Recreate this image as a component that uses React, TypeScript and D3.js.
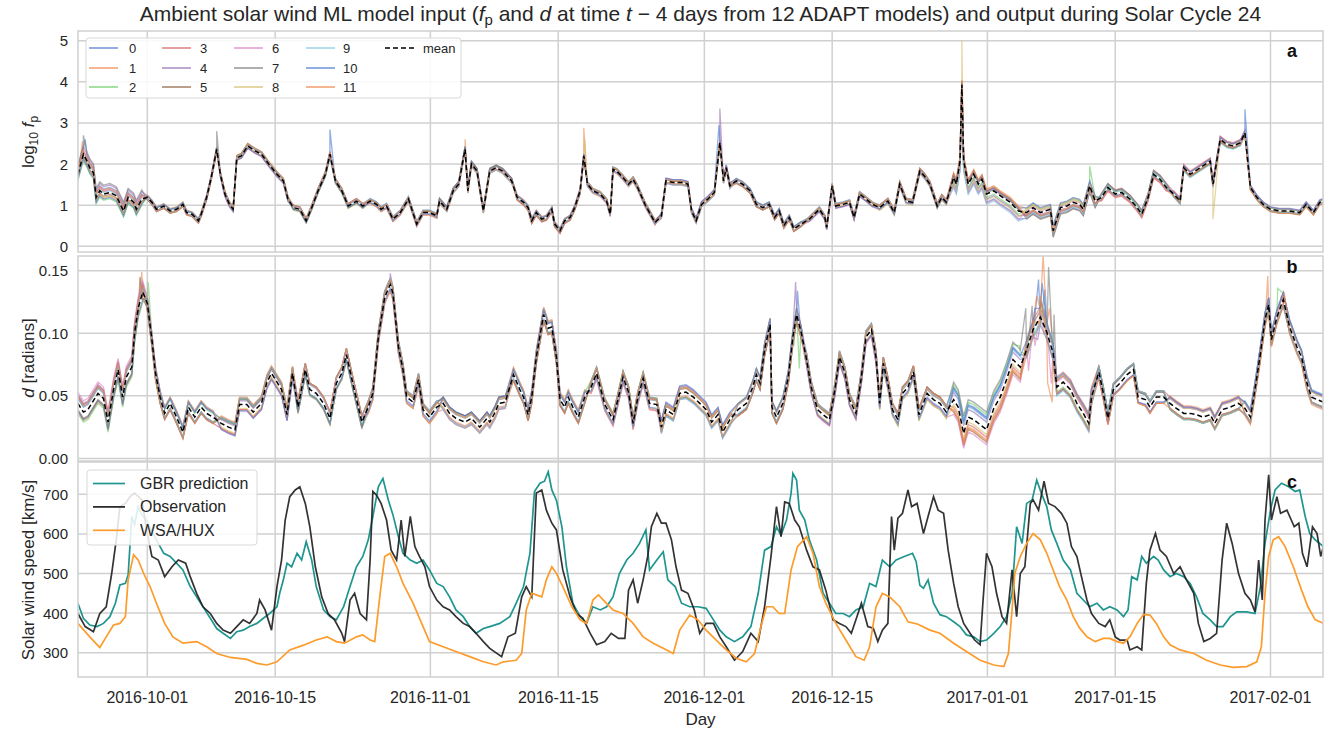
import React from 'react';
import * as d3 from 'd3';

type Pt = [number, number];

// time is in days counted from 2016-10-01 (UTC)
const T0 = Date.UTC(2016, 9, 1);
const dayToDate = (t: number) => new Date(T0 + t * 864e5);

const xTickLabels = ['2016-10-01', '2016-10-15', '2016-11-01', '2016-11-15', '2016-12-01', '2016-12-15', '2017-01-01', '2017-01-15', '2017-02-01'];
const fpTicks = [0, 1, 2, 3, 4, 5];
const dTicks = [0, 0.05, 0.1, 0.15];
const speedTicks = [300, 400, 500, 600, 700];
const modelNames = ['0', '1', '2', '3', '4', '5', '6', '7', '8', '9', '10', '11'];
const modelColors = ['#4878d0', '#ee854a', '#6acc64', '#d65f5f', '#956cb4', '#8c613c', '#dc7ec0', '#797979', '#d5bb67', '#82c6e2', '#4878d0', '#ee854a'];

// mean log10 fp over the 12 ADAPT realisations
const meanFp: Pt[] = [
  [-7.6, 1.75], [-7.0, 2.24], [-6.6, 2.07], [-6.3, 1.91], [-5.9, 1.79], [-5.6, 1.19], [-5.2, 1.35], [-4.8, 1.27], [-4.1, 1.31], [-3.4, 1.23], [-2.6, 0.86], [-2.1, 1.19], [-1.5, 1.07], [-1.2, 0.9], [-0.6, 1.15], [0, 1.19], [0.5, 1.07], [1, 0.9], [1.8, 0.98], [2.5, 0.86], [3.2, 0.9], [3.9, 1.02], [4.3, 0.82], [4.9, 0.78], [5.6, 0.62], [5.9, 0.78], [6.5, 1.19], [7.0, 1.67], [7.6, 2.36], [8.0, 1.75], [8.5, 1.27], [9.0, 1.02], [9.4, 0.9], [9.8, 2.15], [10.3, 2.2], [11.0, 2.44], [11.8, 2.32], [12.5, 2.24], [13.3, 2.0], [14.2, 1.75], [14.9, 1.59], [15.4, 1.15], [16.0, 0.94], [16.7, 0.9], [17.4, 0.62], [18.0, 0.94], [18.7, 1.35], [19.5, 1.75], [20.0, 2.24], [20.6, 1.59], [21.3, 1.35], [22.0, 0.98], [22.9, 1.1], [23.6, 0.98], [24.4, 1.1], [25.1, 1.02], [25.6, 0.9], [26.2, 0.98], [26.9, 0.66], [27.7, 0.82], [28.6, 1.15], [29.5, 0.54], [30.2, 0.82], [30.9, 0.82], [31.7, 0.74], [32.0, 1.1], [32.8, 0.9], [33.5, 1.35], [34.1, 1.51], [34.8, 2.36], [35.1, 1.35], [35.5, 2.0], [36.1, 1.83], [36.8, 0.86], [37.5, 1.83], [38.2, 1.91], [38.9, 1.83], [39.9, 1.59], [40.5, 1.19], [41.2, 1.07], [41.7, 0.94], [42.1, 0.62], [42.6, 0.82], [43.2, 0.66], [43.7, 0.7], [44.3, 0.9], [44.6, 0.54], [45.2, 0.38], [45.7, 0.62], [46.3, 0.7], [46.8, 0.94], [47.4, 1.35], [47.8, 2.2], [48.2, 1.51], [48.8, 1.35], [49.6, 1.27], [50.3, 1.1], [50.7, 0.78], [51.0, 1.87], [51.4, 1.83], [52.1, 1.67], [52.7, 1.51], [53.2, 1.63], [53.7, 1.43], [54.5, 1.02], [55.0, 0.82], [55.6, 0.58], [56.3, 0.74], [56.8, 1.59], [57.6, 1.55], [58.5, 1.55], [59.2, 1.51], [59.6, 0.86], [60.1, 0.62], [60.7, 1.02], [61.4, 1.15], [62.1, 1.31], [62.7, 2.52], [63.1, 1.59], [63.4, 1.91], [63.8, 1.47], [64.5, 1.59], [65.2, 1.51], [66.0, 1.35], [66.7, 1.02], [67.4, 0.94], [68.1, 1.02], [68.7, 0.7], [69.2, 0.86], [69.7, 0.5], [70.3, 0.7], [70.8, 0.42], [71.6, 0.54], [72.5, 0.66], [73.6, 0.9], [74.2, 0.7], [74.4, 0.46], [75.0, 1.47], [75.4, 0.98], [76.2, 1.02], [76.9, 1.07], [77.4, 0.7], [78.0, 1.27], [78.7, 1.15], [79.4, 1.02], [80.2, 0.94], [81.1, 1.1], [81.8, 0.82], [82.4, 1.51], [83.1, 1.1], [83.8, 1.07], [84.6, 1.83], [85.1, 1.71], [85.7, 1.51], [86.5, 0.98], [87.0, 1.19], [87.5, 1.07], [88.3, 1.67], [88.6, 1.51], [89.0, 2.07], [89.2, 3.93], [89.4, 2.07], [89.9, 1.51], [90.5, 1.75], [91.0, 1.51], [91.4, 1.63], [91.9, 1.27], [92.7, 1.35], [93.4, 1.23], [94.5, 1.07], [95.4, 0.86], [96.3, 0.82], [97.0, 0.94], [97.8, 0.82], [98.9, 0.9], [99.2, 0.38], [100.0, 0.94], [100.7, 0.98], [101.4, 1.07], [102.1, 1.02], [102.5, 0.9], [103.2, 1.47], [103.8, 1.1], [104.5, 1.19], [105.2, 1.43], [106.0, 1.27], [106.7, 1.31], [107.6, 1.15], [108.4, 0.94], [108.9, 0.78], [109.6, 1.19], [110.2, 1.75], [110.9, 1.63], [111.6, 1.43], [112.4, 1.27], [113.1, 1.1], [113.5, 1.91], [114.2, 1.75], [115.3, 1.91], [116.4, 2.07], [116.7, 1.51], [117.5, 2.6], [118.2, 2.48], [118.9, 2.44], [119.7, 2.52], [120.2, 2.76], [120.8, 1.43], [121.5, 1.19], [122.2, 1.02], [123.0, 0.9], [124.0, 0.86], [125.1, 0.86], [126.2, 0.82], [126.9, 1.02], [127.7, 0.82], [128.4, 1.07], [128.8, 1.1],
];

// mean d [radians]
const meanD: Pt[] = [
  [-7.6, 0.044], [-7.0, 0.037], [-6.5, 0.039], [-6.0, 0.045], [-5.4, 0.052], [-4.8, 0.048], [-4.3, 0.029], [-3.7, 0.055], [-3.2, 0.071], [-2.7, 0.049], [-2.3, 0.065], [-1.7, 0.073], [-1.4, 0.1], [-1.0, 0.12], [-0.5, 0.133], [0, 0.124], [0.5, 0.095], [0.9, 0.068], [1.4, 0.049], [1.9, 0.036], [2.5, 0.044], [3.2, 0.033], [3.9, 0.021], [4.5, 0.041], [5.2, 0.033], [5.9, 0.041], [6.5, 0.036], [7.2, 0.033], [8.1, 0.028], [8.9, 0.025], [9.6, 0.023], [10.1, 0.043], [10.9, 0.043], [11.6, 0.037], [12.5, 0.044], [13.1, 0.061], [13.6, 0.068], [14.2, 0.061], [14.7, 0.055], [15.3, 0.035], [15.9, 0.068], [16.5, 0.041], [17.3, 0.071], [17.8, 0.055], [18.5, 0.052], [19.3, 0.044], [20.0, 0.032], [20.7, 0.06], [21.3, 0.068], [21.8, 0.083], [22.6, 0.057], [23.5, 0.029], [24.2, 0.041], [24.7, 0.052], [25.3, 0.097], [26.0, 0.129], [26.6, 0.139], [26.9, 0.132], [27.5, 0.089], [28.0, 0.071], [28.4, 0.049], [29.1, 0.045], [29.7, 0.063], [30.2, 0.039], [30.9, 0.033], [31.7, 0.041], [32.4, 0.044], [33.1, 0.036], [33.8, 0.032], [34.8, 0.029], [35.5, 0.032], [36.4, 0.025], [37.2, 0.032], [37.5, 0.029], [38.1, 0.037], [38.5, 0.044], [39.2, 0.045], [40.1, 0.067], [40.8, 0.055], [41.2, 0.049], [41.7, 0.035], [42.1, 0.049], [42.6, 0.081], [43.4, 0.115], [43.9, 0.104], [44.3, 0.105], [44.8, 0.081], [45.2, 0.047], [45.7, 0.041], [46.1, 0.049], [46.6, 0.041], [47.2, 0.033], [47.9, 0.049], [48.6, 0.057], [49.2, 0.068], [50.1, 0.043], [51.0, 0.031], [51.6, 0.049], [52.1, 0.065], [52.7, 0.053], [53.2, 0.028], [53.7, 0.048], [54.3, 0.064], [55.0, 0.044], [55.8, 0.043], [56.3, 0.025], [56.8, 0.039], [57.6, 0.035], [58.3, 0.052], [59.0, 0.053], [59.8, 0.049], [60.5, 0.044], [61.2, 0.039], [61.8, 0.029], [62.5, 0.035], [63.0, 0.021], [63.8, 0.031], [64.7, 0.039], [65.6, 0.044], [66.3, 0.057], [66.7, 0.067], [67.1, 0.06], [67.6, 0.087], [68.2, 0.107], [68.4, 0.041], [68.9, 0.033], [69.6, 0.044], [70.2, 0.065], [70.7, 0.097], [71.1, 0.115], [71.6, 0.101], [72.2, 0.079], [72.7, 0.057], [73.4, 0.039], [74.0, 0.035], [74.7, 0.031], [75.3, 0.055], [75.8, 0.081], [76.4, 0.068], [76.9, 0.047], [77.6, 0.036], [78.2, 0.065], [78.7, 0.097], [79.3, 0.103], [79.8, 0.081], [80.2, 0.044], [80.6, 0.076], [81.1, 0.06], [81.6, 0.039], [82.2, 0.031], [82.7, 0.052], [83.3, 0.057], [83.9, 0.069], [84.5, 0.035], [85.4, 0.052], [86.1, 0.047], [86.8, 0.044], [87.5, 0.037], [88.3, 0.047], [88.8, 0.041], [89.4, 0.02], [89.9, 0.033], [90.5, 0.031], [91.2, 0.027], [91.9, 0.023], [92.7, 0.04], [93.4, 0.049], [94.1, 0.063], [94.8, 0.079], [95.6, 0.073], [96.3, 0.087], [97.0, 0.103], [97.8, 0.113], [98.5, 0.101], [99.2, 0.084], [99.6, 0.057], [100.3, 0.061], [101.1, 0.055], [101.8, 0.044], [102.5, 0.036], [103.1, 0.028], [103.4, 0.049], [104.2, 0.069], [104.7, 0.052], [105.2, 0.032], [105.8, 0.055], [106.5, 0.06], [107.3, 0.067], [108.0, 0.071], [108.5, 0.049], [109.3, 0.047], [109.8, 0.041], [110.5, 0.049], [111.3, 0.049], [112.0, 0.044], [112.7, 0.04], [113.5, 0.036], [114.2, 0.036], [114.9, 0.035], [115.6, 0.033], [116.4, 0.035], [116.9, 0.028], [117.7, 0.039], [118.6, 0.041], [119.5, 0.044], [120.2, 0.04], [120.8, 0.033], [121.3, 0.055], [121.9, 0.084], [122.4, 0.111], [122.8, 0.123], [123.1, 0.095], [123.7, 0.113], [124.4, 0.127], [125.1, 0.105], [125.9, 0.089], [126.4, 0.081], [127.0, 0.06], [127.5, 0.049], [128.1, 0.047], [128.8, 0.045],
];

// per-model offset from the mean, one value per 8-day stretch (from day -8)
const fpOffsets: number[][] = [
  [0.12, -0.04, 0.05, -0.04, 0.06, 0.05, -0.05, 0.04, 0.06, -0.05, 0.05, 0.07, -0.20, -0.14, 0.08, -0.04, 0.04],
  [-0.08, 0.05, -0.04, 0.06, -0.05, 0.06, 0.06, -0.06, 0.05, 0.05, -0.04, 0.04, 0.12, 0.10, -0.08, 0.08, -0.05],
  [-0.15, 0.03, 0.04, -0.03, 0.04, -0.06, 0.03, 0.05, -0.05, 0.06, 0.04, -0.06, -0.08, 0.08, 0.05, -0.07, 0.03],
  [0.06, -0.05, -0.05, 0.04, -0.06, 0.04, -0.07, 0.05, 0.04, -0.04, -0.05, 0.05, 0.05, -0.10, 0.10, 0.06, -0.04],
  [0.18, 0.04, 0.03, 0.05, 0.05, -0.04, 0.05, -0.04, -0.06, 0.03, 0.06, -0.04, -0.12, -0.05, -0.06, 0.05, 0.06],
  [-0.05, -0.03, 0.06, -0.05, 0.03, 0.07, -0.04, 0.06, 0.03, -0.06, 0.03, 0.06, 0.08, -0.16, 0.07, -0.05, -0.03],
  [0.08, 0.05, -0.06, 0.03, -0.04, -0.05, 0.04, -0.05, 0.06, 0.05, -0.06, -0.05, -0.22, 0.04, -0.09, 0.07, 0.05],
  [0.22, -0.06, 0.04, 0.06, 0.05, 0.03, -0.06, 0.03, -0.04, -0.05, 0.05, 0.03, 0.03, -0.08, 0.09, -0.06, -0.05],
  [-0.10, 0.06, -0.03, -0.06, -0.05, 0.05, 0.05, -0.05, 0.05, 0.04, -0.03, -0.06, -0.15, 0.06, -0.05, 0.04, 0.04],
  [0.04, -0.04, 0.05, 0.04, 0.06, -0.05, -0.03, 0.06, -0.05, -0.03, 0.06, 0.05, -0.25, -0.12, 0.06, -0.08, -0.04],
  [-0.12, 0.04, -0.05, -0.04, -0.03, 0.06, 0.04, -0.03, 0.07, 0.06, -0.05, -0.03, 0.07, 0.12, -0.04, 0.05, 0.05],
  [0.10, -0.05, 0.06, 0.05, 0.04, -0.03, -0.05, 0.04, -0.03, -0.06, 0.04, 0.06, 0.10, -0.06, -0.07, -0.04, -0.06],
];

const dOffsets: number[][] = [
  [0.006, -0.004, 0.005, -0.004, 0.004, 0.005, -0.004, 0.004, 0.005, -0.005, 0.004, 0.005, 0.010, -0.005, 0.004, -0.004, 0.006],
  [-0.006, 0.005, -0.004, 0.005, -0.005, 0.004, 0.006, -0.005, 0.004, 0.005, -0.004, 0.004, -0.008, 0.006, -0.005, 0.006, -0.004],
  [-0.008, 0.003, 0.004, -0.004, 0.004, -0.005, 0.004, 0.005, -0.004, 0.005, 0.004, -0.005, 0.012, -0.004, 0.005, -0.005, 0.005],
  [0.005, -0.005, -0.004, 0.004, -0.005, 0.004, -0.005, 0.004, 0.004, -0.004, -0.005, 0.005, -0.006, 0.008, 0.005, 0.005, -0.004],
  [0.007, 0.004, 0.003, 0.005, 0.005, -0.004, 0.005, -0.004, -0.005, 0.004, 0.005, -0.004, 0.006, -0.006, -0.004, 0.004, 0.005],
  [-0.005, -0.004, 0.005, -0.005, 0.003, 0.005, -0.004, 0.005, 0.003, -0.005, 0.003, 0.005, -0.010, 0.005, 0.004, -0.005, -0.004],
  [0.009, 0.005, -0.005, 0.004, -0.004, -0.005, 0.004, -0.005, 0.005, 0.004, -0.005, -0.004, -0.012, 0.004, -0.005, 0.005, 0.004],
  [0.004, -0.005, 0.004, 0.005, 0.005, 0.003, -0.005, 0.003, -0.004, -0.004, 0.005, 0.003, 0.014, -0.006, 0.005, -0.004, -0.005],
  [-0.007, 0.005, -0.003, -0.005, -0.005, 0.004, 0.005, -0.004, 0.004, 0.004, -0.003, -0.005, -0.004, 0.006, -0.005, 0.004, 0.004],
  [0.004, -0.004, 0.005, 0.004, 0.005, -0.004, -0.003, 0.005, -0.005, -0.003, 0.005, 0.004, 0.008, -0.007, 0.005, -0.005, -0.004],
  [-0.006, 0.004, -0.005, -0.004, -0.003, 0.005, 0.004, -0.003, 0.006, 0.005, -0.004, -0.003, 0.009, 0.007, -0.004, 0.005, 0.005],
  [0.006, -0.005, 0.006, 0.005, 0.004, -0.003, -0.005, 0.004, -0.003, -0.005, 0.004, 0.005, -0.009, -0.005, -0.005, -0.004, -0.006],
];

// individual model excursions: [model, day, value]
const fpSpikes: [number, number, number][] = [
  [7, -7.0, 2.7], [0, -6.8, 2.6], [1, -7.1, 2.55], [7, 7.6, 2.8], [0, 20.0, 2.84], [1, 34.8, 2.6],
  [1, 47.8, 2.88], [8, 47.9, 2.6], [4, 62.7, 3.35], [10, 62.6, 2.95], [8, 89.2, 5.0], [2, 103.2, 1.95],
  [8, 116.7, 0.66], [10, 120.2, 3.33],
];
const dSpikes: [number, number, number][] = [
  [1, -0.6, 0.149], [5, -0.8, 0.145], [2, 0.1, 0.141], [4, 26.6, 0.148],
  [4, 71.0, 0.141], [0, 71.2, 0.134], [2, 70.8, 0.09], [2, 71.4, 0.072], [2, 72.0, 0.08],
  [1, 97.4, 0.13], [1, 98.1, 0.163], [1, 98.8, 0.12], [7, 96.2, 0.12], [7, 96.9, 0.122], [7, 98.7, 0.153], [7, 99.3, 0.115],
  [0, 97.6, 0.143], [0, 98.3, 0.135], [10, 97.2, 0.12], [10, 98.0, 0.14], [2, 95.5, 0.09], [2, 97.8, 0.127],
  [6, 96.5, 0.07], [6, 97.2, 0.09], [6, 98.2, 0.1], [6, 99.0, 0.06], [11, 97.0, 0.11], [11, 97.8, 0.13], [11, 98.6, 0.06], [11, 99.1, 0.045],
  [9, 98.4, 0.13], [9, 99.1, 0.1], [3, 97.9, 0.125], [4, 97.5, 0.095], [4, 98.2, 0.12], [5, 98.0, 0.118], [8, 97.7, 0.108],
  [1, 122.7, 0.146], [2, 123.8, 0.136], [11, 124.5, 0.133], [3, 124.2, 0.13],
];

// solar wind speed [km/s]
const gbr: Pt[] = [
  [-7.6, 425], [-7.0, 387], [-6.3, 370], [-5.5, 366], [-4.8, 374], [-4.1, 391], [-3.5, 425], [-3.0, 471], [-2.4, 475], [-2.1, 496], [-1.7, 644], [-1.4, 623], [-1.0, 669], [-0.6, 648], [0, 631], [0.5, 606], [1.0, 585], [1.8, 551], [2.5, 543], [3.2, 526], [3.9, 509], [4.7, 467], [5.4, 441], [6.1, 416], [6.9, 387], [7.6, 361], [8.3, 349], [9.1, 336], [9.8, 353], [10.5, 357], [11.2, 366], [12.0, 374], [12.7, 387], [13.4, 399], [14.2, 416], [14.5, 450], [14.9, 484], [15.3, 526], [15.8, 517], [16.4, 551], [16.9, 534], [17.4, 580], [18.0, 534], [18.5, 467], [19.3, 408], [20.0, 391], [20.7, 383], [21.5, 416], [22.2, 467], [22.9, 517], [23.6, 543], [24.2, 585], [24.7, 644], [25.3, 719], [25.8, 740], [26.4, 685], [26.9, 648], [27.5, 593], [28.0, 551], [28.8, 534], [29.5, 526], [30.2, 534], [30.9, 509], [31.7, 475], [32.4, 467], [33.1, 441], [33.8, 408], [34.6, 391], [35.3, 366], [36.0, 349], [36.8, 361], [37.5, 366], [38.6, 374], [39.7, 391], [40.4, 425], [41.2, 467], [41.9, 551], [42.4, 707], [43.0, 728], [43.5, 733], [43.9, 757], [44.3, 711], [44.8, 685], [45.4, 618], [45.9, 517], [46.6, 425], [47.4, 391], [48.1, 374], [48.8, 416], [49.6, 408], [50.3, 416], [51.0, 441], [51.7, 500], [52.5, 534], [53.2, 551], [53.9, 576], [54.6, 610], [55.0, 509], [55.8, 534], [56.5, 555], [57.0, 484], [57.8, 467], [58.5, 425], [59.4, 416], [60.3, 416], [61.2, 412], [62.0, 383], [62.7, 357], [63.4, 340], [64.3, 328], [65.2, 340], [66.1, 366], [66.9, 450], [67.6, 559], [68.3, 568], [68.9, 618], [69.4, 597], [70.0, 635], [70.5, 703], [70.7, 753], [71.1, 736], [71.4, 660], [72.0, 635], [72.5, 585], [73.3, 534], [74.0, 450], [74.7, 425], [75.4, 399], [76.2, 399], [76.9, 391], [77.6, 408], [78.4, 416], [79.1, 475], [79.8, 467], [80.5, 534], [81.3, 517], [82.0, 534], [82.9, 543], [83.8, 551], [84.2, 530], [84.6, 470], [85.0, 463], [85.5, 484], [86.1, 425], [86.8, 396], [87.5, 391], [88.3, 378], [89.0, 366], [89.7, 345], [90.5, 340], [91.2, 328], [91.9, 332], [92.7, 349], [93.4, 366], [94.1, 391], [94.7, 450], [95.2, 618], [95.8, 576], [96.3, 677], [96.9, 686], [97.4, 736], [97.9, 703], [98.5, 669], [99.0, 610], [99.6, 576], [100.3, 534], [101.1, 509], [101.8, 450], [102.5, 433], [103.2, 416], [104.0, 425], [104.7, 408], [105.4, 416], [106.2, 408], [106.9, 391], [107.4, 408], [107.8, 492], [108.4, 484], [108.9, 543], [109.4, 526], [110.2, 543], [110.7, 534], [111.3, 509], [112.0, 492], [112.7, 500], [113.5, 492], [114.2, 475], [114.9, 441], [115.6, 399], [116.4, 383], [117.1, 366], [117.8, 366], [118.6, 391], [119.3, 403], [120.4, 403], [121.3, 399], [121.9, 467], [122.4, 576], [123.0, 660], [123.5, 711], [124.2, 728], [125.0, 719], [125.7, 707], [126.2, 711], [126.8, 644], [127.3, 601], [127.9, 585], [128.8, 568],
];

const observed: Pt[] = [
  [-7.6, 399], [-6.8, 366], [-5.9, 353], [-5.2, 399], [-4.5, 416], [-3.9, 500], [-3.4, 585], [-3.0, 669], [-2.4, 677], [-1.9, 694], [-1.4, 703], [-0.6, 686], [0, 601], [0.5, 543], [1.2, 534], [1.9, 492], [2.7, 517], [3.4, 534], [4.2, 526], [4.7, 492], [5.4, 450], [6.1, 416], [6.9, 399], [7.6, 374], [8.3, 357], [9.1, 349], [9.8, 366], [10.5, 383], [11.2, 374], [12.0, 399], [12.3, 433], [12.9, 408], [13.6, 357], [14.2, 467], [14.7, 534], [15.1, 635], [15.6, 694], [16.2, 711], [16.7, 719], [17.3, 677], [17.8, 618], [18.4, 517], [19.1, 441], [19.8, 399], [20.5, 383], [21.3, 349], [21.6, 328], [22.2, 433], [22.7, 450], [23.3, 399], [24.0, 383], [24.4, 534], [24.7, 707], [25.1, 698], [25.6, 677], [26.2, 635], [26.7, 559], [27.3, 534], [27.8, 635], [28.2, 543], [28.8, 644], [29.3, 568], [29.8, 543], [30.4, 517], [30.9, 467], [31.7, 433], [32.4, 416], [33.1, 408], [33.8, 391], [34.6, 374], [35.3, 366], [36.0, 349], [36.8, 328], [37.5, 311], [38.8, 290], [39.5, 340], [40.3, 349], [41.0, 441], [41.5, 467], [42.1, 441], [42.6, 703], [43.2, 711], [43.7, 660], [44.3, 627], [44.8, 610], [45.5, 509], [46.3, 441], [47.0, 399], [47.7, 387], [48.5, 349], [49.2, 320], [50.1, 328], [50.8, 349], [51.6, 336], [52.3, 336], [52.7, 458], [53.2, 484], [53.7, 425], [54.3, 484], [54.8, 543], [55.2, 618], [55.8, 652], [56.3, 627], [56.8, 627], [57.4, 585], [57.9, 517], [58.5, 458], [59.2, 450], [59.9, 408], [60.5, 349], [61.2, 374], [62.0, 374], [62.7, 340], [63.4, 315], [64.3, 281], [65.2, 303], [66.1, 349], [66.9, 328], [67.6, 416], [68.3, 543], [68.9, 669], [69.4, 593], [69.8, 681], [70.3, 677], [70.9, 635], [71.4, 618], [72.2, 559], [72.9, 517], [73.6, 509], [74.3, 458], [75.1, 383], [75.8, 374], [76.5, 366], [77.1, 349], [77.6, 383], [78.2, 425], [78.9, 366], [79.5, 362], [80.0, 328], [80.5, 357], [81.1, 374], [81.5, 644], [81.8, 559], [82.2, 640], [82.7, 652], [83.3, 711], [83.7, 669], [84.3, 677], [85.0, 601], [85.5, 644], [86.1, 694], [86.6, 660], [87.2, 652], [87.7, 559], [88.3, 475], [88.8, 416], [89.4, 374], [90.1, 349], [90.6, 332], [91.2, 320], [91.5, 425], [91.9, 551], [92.5, 517], [93.0, 450], [93.6, 391], [94.1, 374], [94.7, 509], [95.2, 391], [95.6, 500], [96.1, 517], [96.7, 677], [97.0, 686], [97.6, 660], [98.2, 733], [98.7, 677], [99.4, 669], [100.1, 652], [100.7, 627], [101.2, 568], [101.8, 543], [102.3, 492], [102.9, 433], [103.4, 399], [104.2, 374], [104.9, 366], [105.4, 383], [106.0, 340], [106.5, 332], [107.3, 332], [107.6, 307], [108.4, 315], [108.9, 307], [109.4, 475], [109.8, 559], [110.4, 601], [110.9, 559], [111.6, 543], [112.4, 500], [113.1, 517], [113.8, 484], [114.6, 450], [115.1, 374], [115.7, 328], [116.4, 336], [117.1, 349], [117.7, 534], [118.2, 627], [118.8, 576], [119.5, 500], [120.2, 450], [120.8, 433], [121.3, 403], [121.7, 534], [122.1, 433], [122.4, 635], [122.8, 749], [123.1, 635], [123.7, 694], [124.1, 652], [124.8, 660], [125.6, 618], [126.1, 627], [126.5, 551], [127.0, 517], [127.6, 618], [128.1, 601], [128.5, 543], [128.8, 568],
];

const wsaHux: Pt[] = [
  [-7.6, 374], [-6.3, 340], [-5.2, 313], [-4.5, 340], [-3.7, 370], [-3.0, 374], [-2.4, 391], [-2.1, 484], [-1.5, 547], [-1.0, 534], [-0.4, 500], [0.3, 467], [1.0, 425], [1.9, 374], [2.8, 340], [3.9, 324], [5.4, 328], [6.5, 315], [7.6, 298], [9.1, 288], [10.9, 283], [12.0, 273], [13.1, 269], [14.2, 277], [15.6, 307], [17.1, 319], [18.5, 332], [19.7, 340], [20.7, 328], [21.6, 324], [22.9, 340], [23.6, 345], [24.4, 332], [24.9, 328], [25.5, 450], [26.0, 543], [26.6, 551], [27.3, 517], [28.0, 475], [29.1, 425], [30.2, 366], [30.9, 328], [32.4, 315], [33.8, 303], [35.3, 290], [36.8, 277], [38.2, 269], [39.0, 277], [40.4, 281], [41.0, 298], [41.5, 408], [42.1, 450], [42.6, 446], [43.2, 441], [43.7, 484], [44.3, 517], [44.8, 500], [45.5, 467], [46.5, 416], [47.4, 383], [48.1, 374], [48.8, 433], [49.4, 446], [50.1, 429], [51.0, 408], [52.1, 399], [53.2, 374], [54.3, 340], [55.4, 324], [56.5, 311], [57.6, 298], [58.3, 357], [59.4, 395], [60.3, 383], [61.2, 357], [62.3, 332], [63.4, 307], [64.5, 286], [65.6, 277], [66.5, 298], [67.2, 366], [67.8, 416], [68.5, 416], [69.2, 399], [69.8, 399], [70.5, 509], [71.2, 568], [72.2, 593], [72.9, 551], [73.6, 467], [74.3, 425], [75.4, 374], [76.5, 332], [77.6, 290], [78.5, 281], [79.1, 315], [79.8, 416], [80.5, 450], [81.3, 441], [82.4, 416], [83.3, 378], [84.4, 372], [85.7, 357], [86.8, 349], [88.3, 324], [89.7, 303], [91.2, 281], [92.7, 269], [93.8, 265], [94.3, 298], [94.7, 408], [95.0, 500], [95.6, 543], [96.3, 576], [97.0, 601], [97.8, 585], [98.5, 551], [99.2, 509], [99.9, 467], [100.7, 433], [101.4, 391], [102.1, 362], [102.9, 340], [103.8, 328], [104.7, 336], [105.4, 336], [106.2, 328], [106.9, 324], [107.6, 340], [108.4, 374], [109.1, 397], [109.8, 395], [110.5, 374], [111.3, 340], [112.0, 320], [113.1, 307], [114.6, 298], [116.0, 281], [117.5, 269], [118.9, 263], [120.4, 265], [121.5, 277], [122.0, 315], [122.4, 450], [122.8, 543], [123.3, 585], [123.9, 593], [124.6, 568], [125.5, 517], [126.4, 458], [127.1, 416], [127.9, 383], [128.8, 374],
];

const W = 1327, H = 732;
const L = 78, R = 1323;
const panelA = { top: 31, bottom: 252 };
const panelB = { top: 256, bottom: 461 };
const panelC = { top: 462, bottom: 677 };
const FONT = '"Liberation Sans", Arial, Helvetica, sans-serif';
const GRID = '#d0d0d0';
const INK = '#262626';

const x = d3.scaleUtc().domain([dayToDate(-7.59), dayToDate(128.75)]).range([L, R]);
const yA = d3.scaleLinear().domain([0, 5]).range([246.3, 40.7]);
const yB = d3.scaleLinear().domain([0, 0.15]).range([458.4, 270.8]);
const yC = d3.scaleLinear().domain([300, 700]).range([652.7, 494.3]);

const seg = (t: number) => Math.min(16, Math.max(0, Math.floor((t + 8) / 8)));
function modelSeries(mean: Pt[], offsets: number[][], spikes: [number, number, number][], m: number): Pt[] {
  const pts: Pt[] = mean.map(([t, v]) => [t, v + offsets[m][seg(t)]] as Pt);
  spikes.filter(s => s[0] === m).forEach(s => pts.push([s[1], s[2]]));
  return pts.sort((a, b) => a[0] - b[0]);
}

const mkLine = (y: d3.ScaleLinear<number, number>) =>
  d3.line<Pt>().x(d => x(dayToDate(d[0]))).y(d => y(d[1]));

function Frame({ p, y, ticks, fmt }: { p: { top: number; bottom: number }; y: d3.ScaleLinear<number, number>; ticks: number[]; fmt: (v: number) => string }) {
  return (
    <g>
      {ticks.map(v => (
        <g key={v}>
          <line x1={L} x2={R} y1={y(v)} y2={y(v)} stroke={GRID} strokeWidth={1.5} />
          <text x={68} y={y(v) + 5.5} textAnchor="end" fontSize={15} fill={INK}>{fmt(v)}</text>
        </g>
      ))}
      {xTickLabels.map(s => {
        const xx = x(new Date(s + 'T00:00:00Z'));
        return <line key={s} x1={xx} x2={xx} y1={p.top} y2={p.bottom} stroke={GRID} strokeWidth={1.5} />;
      })}
    </g>
  );
}

export default function App() {
  const lineA = mkLine(yA), lineB = mkLine(yB), lineC = mkLine(yC);
  return (
    <svg width={W} height={H} style={{ position: 'absolute', left: 0, top: 0, background: '#fff' }} fontFamily={FONT}>
      <defs>
        <clipPath id="clipA"><rect x={L} y={panelA.top} width={R - L} height={panelA.bottom - panelA.top} /></clipPath>
        <clipPath id="clipB"><rect x={L} y={panelB.top} width={R - L} height={panelB.bottom - panelB.top} /></clipPath>
        <clipPath id="clipC"><rect x={L} y={panelC.top} width={R - L} height={panelC.bottom - panelC.top} /></clipPath>
      </defs>

      {/* title */}
      <text x={700.5} y={21} textAnchor="middle" fontSize={21} fill={INK}>
        Ambient solar wind ML model input (<tspan fontStyle="italic">f</tspan><tspan fontSize={15} dy={4}>p</tspan>
        <tspan dy={-4}> and </tspan><tspan fontStyle="italic">d</tspan> at time <tspan fontStyle="italic">t</tspan> − 4 days from 12 ADAPT models) and output during Solar Cycle 24
      </text>

      {/* panel a */}
      <Frame p={panelA} y={yA} ticks={fpTicks} fmt={v => String(v)} />
      <g clipPath="url(#clipA)" fill="none">
        {modelNames.map((n, m) => (
          <path key={n} d={lineA(modelSeries(meanFp, fpOffsets, fpSpikes, m)) || ''} stroke={modelColors[m]} strokeOpacity={0.6} strokeWidth={1.3} />
        ))}
        <path d={lineA(meanFp) || ''} stroke="#000" strokeWidth={1.5} strokeDasharray="5,3" />
      </g>
      <rect x={L} y={panelA.top} width={R - L} height={panelA.bottom - panelA.top} fill="none" stroke={GRID} strokeWidth={1.5} />

      {/* panel b */}
      <Frame p={panelB} y={yB} ticks={dTicks} fmt={v => v.toFixed(2)} />
      <g clipPath="url(#clipB)" fill="none">
        {modelNames.map((n, m) => (
          <path key={n} d={lineB(modelSeries(meanD, dOffsets, dSpikes, m)) || ''} stroke={modelColors[m]} strokeOpacity={0.6} strokeWidth={1.3} />
        ))}
        <path d={lineB(meanD) || ''} stroke="#000" strokeWidth={1.5} strokeDasharray="5,3" />
      </g>
      <rect x={L} y={panelB.top} width={R - L} height={panelB.bottom - panelB.top} fill="none" stroke={GRID} strokeWidth={1.5} />

      {/* panel c */}
      <Frame p={panelC} y={yC} ticks={speedTicks} fmt={v => String(v)} />
      <g clipPath="url(#clipC)" fill="none">
        <path d={lineC(gbr) || ''} stroke="#1f9590" strokeWidth={1.7} />
        <path d={lineC(observed) || ''} stroke="#222" strokeOpacity={0.92} strokeWidth={1.7} />
        <path d={lineC(wsaHux) || ''} stroke="#fd9b2b" strokeWidth={1.7} />
      </g>
      <rect x={L} y={panelC.top} width={R - L} height={panelC.bottom - panelC.top} fill="none" stroke={GRID} strokeWidth={1.5} />

      {/* x tick labels */}
      {xTickLabels.map(s => (
        <text key={s} x={x(new Date(s + 'T00:00:00Z'))} y={703} textAnchor="middle" fontSize={16} fill={INK}>{s}</text>
      ))}
      <text x={700.5} y={725} textAnchor="middle" fontSize={17} fill={INK}>Day</text>

      {/* y labels */}
      <text transform="translate(34,142) rotate(-90)" textAnchor="middle" fontSize={17} fill={INK}>
        log<tspan fontSize={12} dy={4}>10</tspan><tspan dy={-4}> </tspan><tspan fontStyle="italic">f</tspan><tspan fontSize={12} dy={4}>p</tspan>
      </text>
      <text transform="translate(34,358) rotate(-90)" textAnchor="middle" fontSize={17} fill={INK}>
        <tspan fontStyle="italic">d</tspan> [radians]
      </text>
      <text transform="translate(34,570) rotate(-90)" textAnchor="middle" fontSize={17} fill={INK}>Solar wind speed [km/s]</text>

      {/* panel letters */}
      <text x={1292} y={57} textAnchor="middle" fontSize={18} fontWeight="bold" fill="#111">a</text>
      <text x={1292} y={273} textAnchor="middle" fontSize={18} fontWeight="bold" fill="#111">b</text>
      <text x={1292} y={488} textAnchor="middle" fontSize={18} fontWeight="bold" fill="#111">c</text>

      {/* legend a */}
      <g>
        <rect x={86} y={38} width={375} height={60} rx={3} fill="#fff" fillOpacity={0.85} stroke="#d8d8d8" />
        {[...modelNames, 'mean'].map((n, i) => {
          const col = Math.floor(i / 3), row = i % 3;
          const lx = [89, 162, 234, 306, 385][col];
          const tx = [129, 200, 272, 343, 423][col];
          const ly = [48, 68, 87][row];
          const isMean = n === 'mean';
          return (
            <g key={n}>
              <line x1={lx} x2={lx + 29} y1={ly} y2={ly} stroke={isMean ? '#000' : modelColors[i]} strokeOpacity={isMean ? 1 : 0.6} strokeWidth={isMean ? 1.5 : 2}
                strokeDasharray={isMean ? '5,3' : undefined} />
              <text x={tx} y={ly + 4.5} fontSize={13} fill={INK}>{n}</text>
            </g>
          );
        })}
      </g>

      {/* legend c */}
      <g>
        <rect x={87} y={470} width={170} height={75} rx={3} fill="#fff" fillOpacity={0.85} stroke="#d8d8d8" />
        {[['GBR prediction', '#1f9590'], ['Observation', '#222'], ['WSA/HUX', '#fd9b2b']].map(([n, c], i) => (
          <g key={n}>
            <line x1={93} x2={125} y1={483.5 + i * 23.4} y2={483.5 + i * 23.4} stroke={c} strokeWidth={1.7} />
            <text x={140} y={489 + i * 23.4} fontSize={16} fill={INK}>{n}</text>
          </g>
        ))}
      </g>
    </svg>
  );
}
